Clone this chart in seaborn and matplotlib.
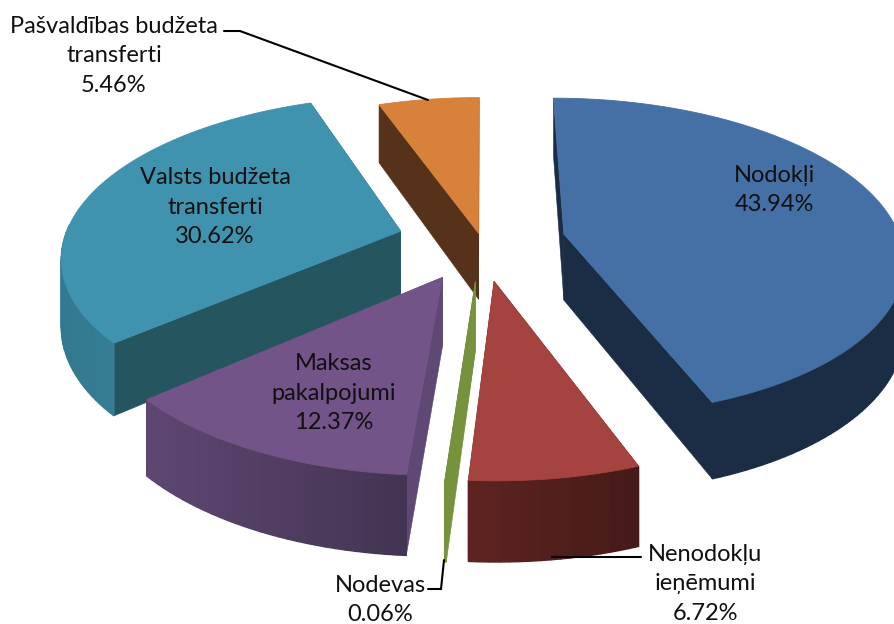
import numpy as np
import pandas as pd
import seaborn as sns
import matplotlib.pyplot as plt
from matplotlib.colors import to_rgb

# Values as printed on the chart
categories = ["Nodokļi", "Nenodokļu\nieņēmumi", "Nodevas", "Maksas\npakalpojumi",
              "Valsts budžeta\ntransferti", "Pašvaldības budžeta\ntransferti"]
shares = [43.94, 6.72, 0.06, 12.37, 30.62, 5.46]
explode = [0.25, 0.25, 0.25, 0.25, 0.25, 0.05]

top_colors = ["#4470A5", "#A4433F", "#76923C", "#725489", "#3F93AE", "#D7813A"]
cut_colors = ["#1B2D44", "#4E1F1C", "#76923C", "#5F4874", "#25565F", "#57321A"]
rim_left = ["#1B2D44", "#5E2321", "#76923C", "#5E4771", "#33798F", "#57321A"]
rim_right = ["#1B2D44", "#451A18", "#76923C", "#433453", "#3D8CA5", "#57321A"]

# Label positions in pixels (centre x, centre y)
label_x = [774, 705, 380, 334, 215, 114]
label_y = [190, 584, 600, 393, 207, 56]

# Perspective of the pie plane
CX, CY = 481.5, 241
SCALE_X, SCALE_Y = 337, 157.5
PERSP = 0.145
DEPTH = 66.5

sns.set_theme(style="white")
plt.rcParams["font.family"] = ["Lato", "DejaVu Sans"]


def project(x, y, drop=0.0):
    w = 1 + PERSP * y
    return CX + SCALE_X * x / w, CY - (SCALE_Y * y - drop * DEPTH) / w


def mix(c0, c1, t):
    c0, c1 = np.array(to_rgb(c0)), np.array(to_rgb(c1))
    return tuple(c0 + (c1 - c0) * t)


df = pd.DataFrame({"name": categories, "share": shares, "explode": explode,
                   "top": top_colors, "cut": cut_colors,
                   "rim_l": rim_left, "rim_r": rim_right,
                   "lx": label_x, "ly": label_y})
ends = np.cumsum(df["share"]) / df["share"].sum() * 2 * np.pi
df["t0"] = np.r_[0, ends.values[:-1]]
df["t1"] = ends.values
df["mid"] = (df["t0"] + df["t1"]) / 2
df["ax0"] = df["explode"] * np.sin(df["mid"])
df["ay0"] = df["explode"] * np.cos(df["mid"])

fig, ax = plt.subplots(figsize=(8.94, 6.24), dpi=100)
fig.subplots_adjust(0, 0, 1, 1)


def face(xs, ys, color, lw=0.4):
    ax.fill(xs, ys, facecolor=color, edgecolor=color, lw=lw)


# Back slices first
for _, s in df.sort_values("ay0", ascending=False).iterrows():
    n = max(int((s.t1 - s.t0) * 40), 2)
    th = np.linspace(s.t0, s.t1, n + 1)
    rx = s.ax0 + np.sin(th)
    ry = s.ay0 + np.cos(th)

    faces = []
    # the two cut faces
    for ex, ey in [(rx[0], ry[0]), (rx[-1], ry[-1])]:
        px = [s.ax0, ex, ex, s.ax0]
        py = [s.ay0, ey, ey, s.ay0]
        faces.append(((s.ay0 + ey) / 2, px, py, s.cut, 0.4))
    # outer rim, split in strips for the shading; the back part is hidden
    sx_all = project(rx, ry)[0]
    span = max(sx_all.max() - sx_all.min(), 1)
    for i in range(n):
        if np.cos((th[i] + th[i + 1]) / 2) > 0.05:
            continue
        t = (sx_all[i] + sx_all[i + 1]) / 2
        col = mix(s.rim_l, s.rim_r, (t - sx_all.min()) / span)
        px = [rx[i], rx[i + 1], rx[i + 1], rx[i]]
        py = [ry[i], ry[i + 1], ry[i + 1], ry[i]]
        faces.append(((ry[i] + ry[i + 1]) / 2, px, py, col, 1.0))

    for _, px, py, col, lw in sorted(faces, key=lambda f: -f[0]):
        sx, sy = project(np.array(px), np.array(py), np.array([0, 0, 1, 1]))
        face(sx, sy, col, lw)

    sx, sy = project(np.r_[s.ax0, rx], np.r_[s.ay0, ry])
    face(sx, sy, s.top, 0.6)

# Leader lines
leaders = [([224, 240, 428], [31, 31, 100]),
           ([428, 441, 444], [589, 589, 560]),
           ([552, 641], [557, 557])]
for lx, ly in leaders:
    ax.plot(lx, ly, color="black", lw=1.5, solid_joinstyle="miter")

for _, s in df.iterrows():
    text = f"{s['name']}\n{s.share:.2f}%"
    ax.text(s.lx, s.ly, text, ha="center", va="center", fontsize=17,
            linespacing=1.5, color="#101010")

ax.set_xlim(0, 894)
ax.set_ylim(624, 0)
ax.axis("off")
sns.despine(ax=ax, left=True, bottom=True)
fig.savefig("out.png", dpi=100, facecolor="white")
